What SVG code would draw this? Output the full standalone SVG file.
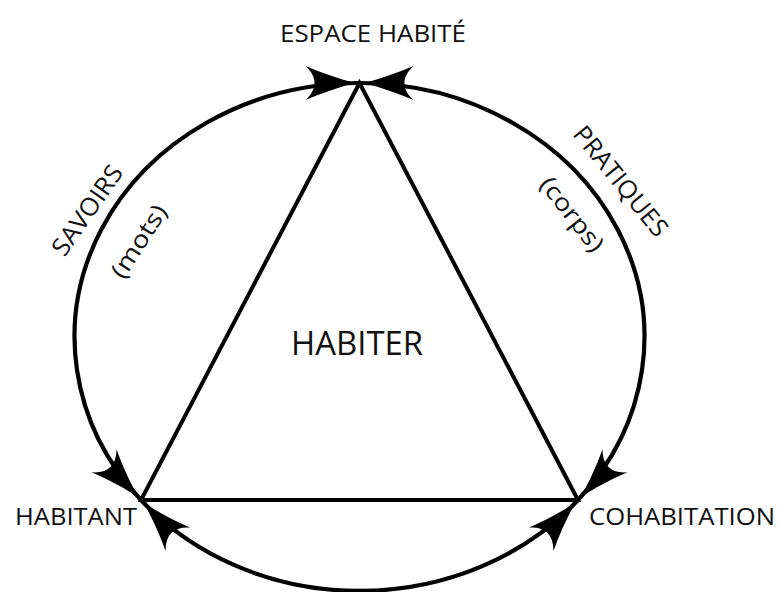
<svg xmlns="http://www.w3.org/2000/svg" width="779" height="592" viewBox="0 0 779 592">
  <style>
    .t { font-family: "Open Sans", "Noto Sans", "Liberation Sans", sans-serif; fill: #111; }
    .arc { fill: none; stroke: #000; stroke-width: 4.2; }
    .tri { fill: none; stroke: #000; stroke-width: 4; stroke-linejoin: miter; }
  </style>
  <defs>
    <marker id="arr" markerUnits="userSpaceOnUse" markerWidth="1" markerHeight="1" refX="0" refY="0" orient="auto-start-reverse" overflow="visible">
      <path d="M-4,0 C-20,-4 -38,-10 -54,-17 C-42,-6 -42,6 -54,17 C-38,10 -20,4 -4,0 Z" fill="#000"/>
    </marker>
  </defs>
  <rect width="779" height="592" fill="#fff"/>

  <g id="connectors">
    <path class="arc" d="M359.5,83 A285,254 0 0 0 141,500" marker-start="url(#arr)" marker-end="url(#arr)"/>
    <path class="arc" d="M359.5,83 A285,254 0 0 1 578,500" marker-start="url(#arr)" marker-end="url(#arr)"/>
    <path class="arc" d="M141,500 A285,254 0 0 0 578,500" marker-start="url(#arr)" marker-end="url(#arr)"/>
    <path class="tri" d="M359.5,83 L141,500 L578,500 Z"/>
  </g>

  <g id="node-espace"><text class="t" x="373" y="42" font-size="23" text-anchor="middle" textLength="186" lengthAdjust="spacingAndGlyphs">ESPACE HABITÉ</text></g>
  <g id="node-habitant"><text class="t" x="15" y="525" font-size="24" textLength="122" lengthAdjust="spacingAndGlyphs">HABITANT</text></g>
  <g id="node-cohabitation"><text class="t" x="589" y="525" font-size="24" textLength="186" lengthAdjust="spacingAndGlyphs">COHABITATION</text></g>
  <g id="node-habiter"><text class="t" x="357" y="355" font-size="33" text-anchor="middle" textLength="132" lengthAdjust="spacingAndGlyphs">HABITER</text></g>

  <g id="label-savoirs"><text class="t" transform="translate(87,210) rotate(-55)" x="0" y="9" font-size="25" text-anchor="middle" textLength="104" lengthAdjust="spacingAndGlyphs">SAVOIRS</text></g>
  <g id="label-mots"><text class="t" transform="translate(140,242) rotate(-57)" x="0" y="7" font-size="24" text-anchor="middle" textLength="82" lengthAdjust="spacingAndGlyphs">(mots)</text></g>
  <g id="label-pratiques"><text class="t" transform="translate(621,181) rotate(51)" x="0" y="9" font-size="25" text-anchor="middle" textLength="134" lengthAdjust="spacingAndGlyphs">PRATIQUES</text></g>
  <g id="label-corps"><text class="t" transform="translate(571,215) rotate(52)" x="0" y="7" font-size="24" text-anchor="middle" textLength="88" lengthAdjust="spacingAndGlyphs">(corps)</text></g>
</svg>
